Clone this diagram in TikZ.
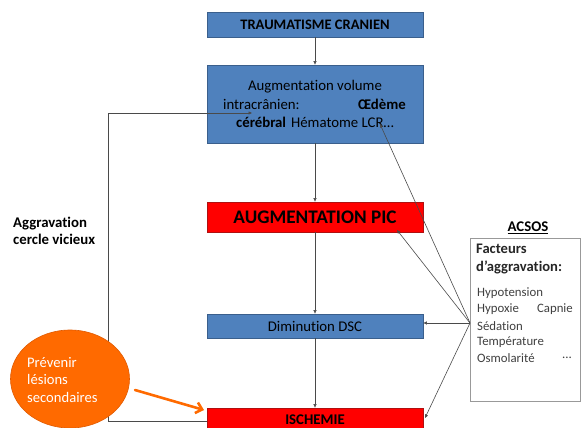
\documentclass[tikz,border=0pt]{standalone}
\usepackage{fontspec}
\setmainfont{Carlito}[Ligatures=NoCommon]
\usetikzlibrary{arrows.meta,shapes.geometric}
\definecolor{boxblue}{HTML}{4F81BD}
\definecolor{boxblueedge}{HTML}{3A5F8C}
\definecolor{boxred}{HTML}{FF0000}
\definecolor{boxrededge}{HTML}{B01010}
\definecolor{orangec}{HTML}{FF6A00}
\definecolor{orangeedge}{HTML}{E05A00}
\definecolor{connc}{HTML}{4A4A4A}
\definecolor{graytext}{HTML}{404040}
\tikzset{
  basebox/.style={rectangle, inner sep=0pt, minimum width=216pt, line width=0.8pt},
  bluebox/.style={basebox, fill=boxblue, draw=boxblueedge},
  redbox/.style={basebox, fill=boxred, draw=boxrededge},
  conn/.style={draw=connc, line width=0.6pt, -{Triangle[length=3.5pt,width=3pt]}},
  txt/.style={inner sep=0pt, font=\fontsize{14.8}{17.5}\selectfont},
  smalltxt/.style={inner sep=0pt, font=\fontsize{12.8}{16}\selectfont, text=graytext},
}
\begin{document}
\begin{tikzpicture}[x=1pt,y=-1pt]
\useasboundingbox (0,0) rectangle (581,428);
% boxes
\node[bluebox, minimum height=25pt] (trauma) at (315,24.5) {};
\node[txt, font=\fontsize{14.5}{17}\selectfont\bfseries] (traumatxt) at (315,24.5) {TRAUMATISME CRANIEN};
\node[bluebox, minimum height=78pt] (vol) at (315,104) {};
\node[txt] (vol1) at (315,87) {Augmentation volume};
\node[txt, anchor=west] (vol2a) at (223,104) {intracrânien:};
\node[txt, anchor=east] (vol2b) at (406,104) {\bfseries Œdème};
\node[txt] (vol3) at (315,122) {\textbf{cérébral}\hspace{5pt}Hématome LCR…};
\node[redbox, minimum height=30pt] (pic) at (315,217) {};
\node[txt, font=\fontsize{19.2}{22}\selectfont\bfseries] (pictxt) at (315,217) {AUGMENTATION PIC};
\node[bluebox, minimum height=24pt] (dsc) at (315,326) {};
\node[txt] (dsctxt) at (315,326) {Diminution DSC};
\node[redbox, minimum height=26pt] (isch) at (315,421) {};
\node[txt, font=\fontsize{14.8}{17}\selectfont\bfseries] (ischtxt) at (315,420) {ISCHEMIE};
% main chain
\draw[conn] (trauma) -- (vol);
\draw[conn] (vol) -- (pic);
\draw[conn] (pic) -- (dsc);
\draw[conn] (dsc) -- (isch);
% vicious circle loop
\coordinate (loopA) at (108,421);
\coordinate (loopB) at (108,113);
\coordinate (loopend) at (252,113);
\draw[conn] (isch.west |- loopA) -- (loopA) -- (loopB) -- (loopend);
\node[txt, font=\fontsize{14.8}{17.5}\selectfont\bfseries, align=left, anchor=west] (aggr) at (13,231) {Aggravation\\cercle vicieux};
% orange circle
\node[ellipse, fill=orangec, draw=orangeedge, line width=0.6pt, minimum width=119pt, minimum height=98pt, inner sep=0pt] (prev) at (70,379) {};
\node[txt, text=white, align=left, anchor=west, font=\fontsize{14.6}{17.5}\selectfont] (prevtxt) at (27,380) {Prévenir\\lésions\\secondaires};
\coordinate (oastart) at (135,390);
\coordinate (oaend) at (204,410);
\draw[orangec, line width=2.6pt, line cap=round, -{Straight Barb[length=6pt,width=11pt,line width=2.6pt]}] (oastart) -- (oaend);
% ACSOS
\node[txt, font=\fontsize{14.8}{17}\selectfont\bfseries] (acsos) at (528,228) {\underline{ACSOS}};
\node[rectangle, draw=gray!80, line width=0.7pt, fill=white, minimum width=110pt, minimum height=163pt, inner sep=0pt] (acsosbox) at (525,319.5) {};
\node[txt, font=\fontsize{14.6}{18}\selectfont\bfseries, align=left, anchor=west, text=black!85] (fact) at (476,259) {Facteurs\\d’aggravation:};
\node[smalltxt, anchor=west] (f1) at (477,293) {Hypotension};
\node[smalltxt, anchor=west] (f2) at (477,309.5) {Hypoxie};
\node[smalltxt, anchor=east] (f2b) at (573,309.5) {Capnie};
\node[smalltxt, anchor=west] (f3) at (477,326) {Sédation};
\node[smalltxt, anchor=west] (f4) at (477,342) {Température};
\node[smalltxt, anchor=west] (f5) at (477,358) {Osmolarité};
\node[smalltxt, anchor=west] (f5b) at (562,358) {...};
% connectors from ACSOS
\coordinate (src) at (470,323);
\coordinate (voltip) at (380,124);
\coordinate (pictip) at (397,230);
\coordinate (ischtip) at (425,418);
\draw[conn] (src) -- (voltip);
\draw[conn] (src) -- (pictip);
\draw[conn] (src) -- (dsc.east |- src);
\draw[conn] (src) -- (ischtip);
\end{tikzpicture}
\end{document}
